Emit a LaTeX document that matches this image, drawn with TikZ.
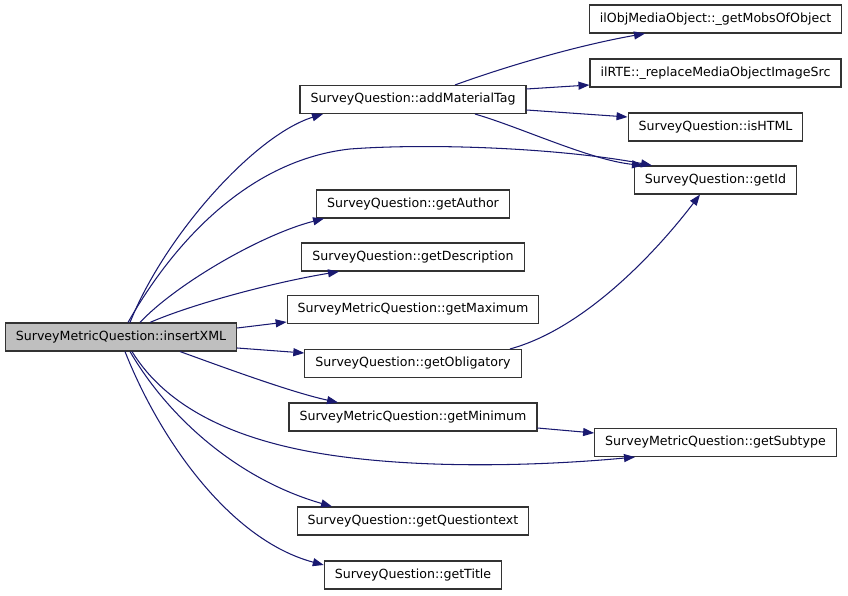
\documentclass[tikz,border=0pt]{standalone}
\usepackage{fontspec}
\setmainfont{DejaVu Sans}
\usetikzlibrary{arrows.meta}
\definecolor{edgeblue}{HTML}{191970}
\definecolor{mainfill}{HTML}{BFBFBF}
\begin{document}
\begin{tikzpicture}[x=1pt,y=1pt,
  fn/.style={draw=black!80, line width=1.1pt, fill=white,
    font=\fontsize{12.6}{15}\selectfont, minimum height=28pt,
    inner xsep=10.5pt, inner ysep=0pt, text height=9.3pt, text depth=2.6pt},
  mainfn/.style={fn, fill=mainfill},
  call/.style={draw=edgeblue, line width=1.05pt, -{Triangle[length=11pt,width=8pt]}}]
\useasboundingbox (0,0) rectangle (848,595);

% nodes
\node[mainfn] (main) at (121,258) {SurveyMetricQuestion::insertXML};
\node[fn] (addMat) at (413,495.5) {SurveyQuestion::addMaterialTag};
\node[fn] (getAuthor) at (413,391) {SurveyQuestion::getAuthor};
\node[fn] (getDesc) at (413,338) {SurveyQuestion::getDescription};
\node[fn] (getMax) at (413,285.5) {SurveyMetricQuestion::getMaximum};
\node[fn] (getObl) at (413,231.5) {SurveyQuestion::getObligatory};
\node[fn] (getMin) at (413,178) {SurveyMetricQuestion::getMinimum};
\node[fn] (getQText) at (413,74) {SurveyQuestion::getQuestiontext};
\node[fn] (getTitle) at (413,20) {SurveyQuestion::getTitle};
\node[fn] (ilObj) at (715.5,576) {ilObjMediaObject::\_getMobsOfObject};
\node[fn] (ilRTE) at (715.5,522) {ilRTE::\_replaceMediaObjectImageSrc};
\node[fn] (isHTML) at (715.5,468) {SurveyQuestion::isHTML};
\node[fn] (getId) at (715.5,415) {SurveyQuestion::getId};
\node[fn] (getSub) at (715.5,152.5) {SurveyMetricQuestion::getSubtype};

% edges from insertXML
\draw[call] ([xshift=9pt]main.north) .. controls (165,360) and (255,460) .. ([xshift=-90pt]addMat.south);
\draw[call] ([xshift=7pt]main.north) .. controls (175,355) and (250,435) .. (350,446)
   .. controls (430,452) and (560,447) .. ([xshift=-63.5pt]getId.north);
\draw[call] ([xshift=19pt]main.north) .. controls (175,310) and (260,360) .. ([xshift=-89pt]getAuthor.south);
\draw[call] ([xshift=29pt]main.north) .. controls (190,290) and (270,312) .. ([xshift=-74pt]getDesc.south);
\draw[call] ([yshift=9pt]main.east) -- ([yshift=-12.5pt]getMax.west);
\draw[call] ([yshift=-11pt]main.east) -- ([yshift=10.5pt]getObl.west);
\draw[call] ([xshift=59pt]main.south) .. controls (220,229) and (290,203) .. ([xshift=-75pt]getMin.north);
\draw[call] ([xshift=11pt]main.south) .. controls (165,190) and (230,155) .. (330,140)
   .. controls (430,125) and (550,130) .. ([xshift=-80.5pt]getSub.south);
\draw[call] ([xshift=9pt]main.south) .. controls (170,175) and (240,115) .. ([xshift=-81pt]getQText.north);
\draw[call] ([xshift=4pt]main.south) .. controls (160,155) and (230,55) .. ([yshift=10pt]getTitle.west);

% edges from addMaterialTag
\draw[call] ([xshift=42pt]addMat.north) .. controls (510,530) and (580,550) .. ([xshift=-70.5pt]ilObj.south);
\draw[call] ([yshift=10.5pt]addMat.east) -- ([yshift=-12pt]ilRTE.west);
\draw[call] ([yshift=-10.5pt]addMat.east) -- ([yshift=10pt]isHTML.west);
\draw[call] ([xshift=62pt]addMat.south) .. controls (520,468) and (590,435) .. ([xshift=-72.5pt]getId.north);

% other edges
\draw[call] ([xshift=97pt]getObl.north) .. controls (580,265) and (650,335) .. ([xshift=-15.5pt]getId.south);
\draw[call] ([yshift=-11pt]getMin.east) -- ([yshift=9.5pt]getSub.west);
\end{tikzpicture}
\end{document}
